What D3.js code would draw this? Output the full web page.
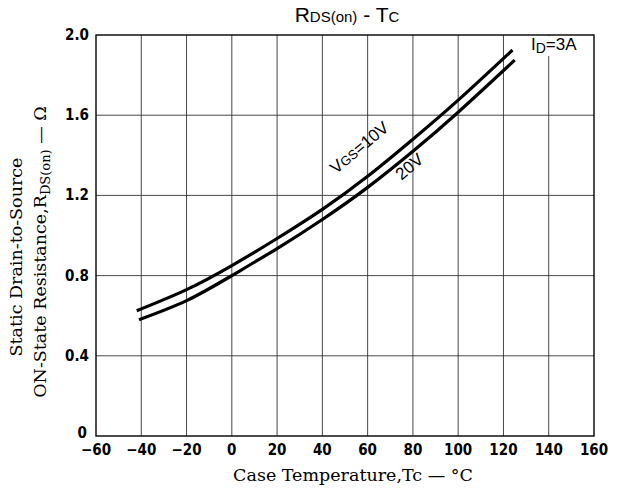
<!DOCTYPE html>
<html><head><meta charset="utf-8">
<script src="https://cdn.jsdelivr.net/npm/d3@7"></script>
<style>body{margin:0;background:#fff}</style>
</head><body>
<svg id="c" width="617" height="493"></svg>
<script>
const xTicks = [-60,-40,-20,0,20,40,60,80,100,120,140,160];
const yTicks = [0,0.4,0.8,1.2,1.6,2.0];
const yTickLabels = ["0","0.4","0.8","1.2","1.6","2.0"];
const tempVgs10 = [-42,-20,0,20,40,60,80,100,124];
const rdsVgs10 = [0.625,0.73,0.85,0.985,1.13,1.295,1.48,1.675,1.925];
const tempVgs20 = [-41,-20,0,20,40,60,80,100,125];
const rdsVgs20 = [0.58,0.675,0.80,0.935,1.08,1.24,1.42,1.615,1.875];

const svg = d3.select("#c");
const L=96, R=594, T=35, B=436;
const x = d3.scaleLinear().domain([-60,160]).range([L,R]);
const y = d3.scaleLinear().domain([0,2]).range([B,T]);

// grid
svg.append("g").selectAll("line").data(xTicks.slice(1,-1)).join("line")
  .attr("x1",d=>x(d)).attr("x2",d=>x(d)).attr("y1",T).attr("y2",B)
  .attr("stroke","#333").attr("stroke-width",0.9);
svg.append("g").selectAll("line").data(yTicks.slice(1,-1)).join("line")
  .attr("y1",d=>y(d)).attr("y2",d=>y(d)).attr("x1",L).attr("x2",R)
  .attr("stroke","#333").attr("stroke-width",0.9);

// tick labels
svg.append("g").selectAll("text").data(xTicks).join("text")
  .attr("x",d=>x(d)).attr("y",B+19).attr("text-anchor","middle")
  .attr("font-family","DejaVu Sans Condensed, DejaVu Sans").attr("font-weight","bold").attr("font-size",15)
  .text(d=>d<0?"\u2212"+(-d):d);
svg.append("g").selectAll("text").data(yTicks).join("text")
  .attr("x",(d,i)=>i===0?87:89).attr("y",(d,i)=>y(d)+(i===0?2:5)).attr("text-anchor","end")
  .attr("font-family","DejaVu Sans Condensed, DejaVu Sans").attr("font-weight","bold").attr("font-size",15)
  .text((d,i)=>yTickLabels[i]);

// curves
const line = d3.line().x(d=>x(d[0])).y(d=>y(d[1])).curve(d3.curveNatural);
svg.append("path").datum(tempVgs10.map((t,i)=>[t,rdsVgs10[i]])).attr("d",line)
  .attr("fill","none").attr("stroke","#000").attr("stroke-width",3.2);
svg.append("path").datum(tempVgs20.map((t,i)=>[t,rdsVgs20[i]])).attr("d",line)
  .attr("fill","none").attr("stroke","#000").attr("stroke-width",3.2);

// curve labels
const sans = "Liberation Sans, Arial, sans-serif";
const l1 = svg.append("text").attr("transform","translate(363,152) rotate(-40)")
  .attr("text-anchor","middle").attr("font-family",sans).attr("font-size",17);
l1.append("tspan").text("V");
l1.append("tspan").attr("font-size",13).text("GS");
l1.append("tspan").text("=10V");
svg.append("text").attr("transform","translate(413,171) rotate(-40)")
  .attr("text-anchor","middle").attr("font-family",sans).attr("font-size",17).text("20V");

// ID label with white background
svg.append("rect").attr("x",528).attr("y",T+1).attr("width",R-529).attr("height",20).attr("fill","#fff");
const id = svg.append("text").attr("x",531).attr("y",50).attr("font-family",sans).attr("font-size",17);
id.append("tspan").text("I");
id.append("tspan").attr("font-size",14).attr("dy",3).text("D");
id.append("tspan").attr("dy",-3).text("=3A");

svg.append("rect").attr("x",L).attr("y",T).attr("width",R-L).attr("height",B-T)
  .attr("fill","none").attr("stroke","#000").attr("stroke-width",1.4);

// title
const tt = svg.append("text").attr("x",347).attr("y",22).attr("text-anchor","middle")
  .attr("font-family",sans).attr("font-size",21);
tt.append("tspan").text("R");
tt.append("tspan").attr("font-size",15).text("DS(on)");
tt.append("tspan").text("  -  T");
tt.append("tspan").attr("font-size",15).text("C");

// axis titles
const serif = "DejaVu Serif, serif";
svg.append("text").attr("x",353).attr("y",481).attr("text-anchor","middle")
  .attr("font-family",serif).attr("font-size",17.5).text("Case Temperature,Tc \u2014 \u00b0C");
svg.append("text").attr("transform","translate(22,257) rotate(-90)").attr("text-anchor","middle")
  .attr("font-family",serif).attr("font-size",17.5).text("Static Drain-to-Source");
const yl = svg.append("text").attr("transform","translate(46,252) rotate(-90)").attr("text-anchor","middle")
  .attr("font-family",serif).attr("font-size",17.5);
yl.append("tspan").text("ON-State Resistance,R");
yl.append("tspan").attr("font-size",13).attr("dy",4).text("DS(on)");
yl.append("tspan").attr("dy",-4).text(" \u2014 \u03a9");
</script>
</body></html>
